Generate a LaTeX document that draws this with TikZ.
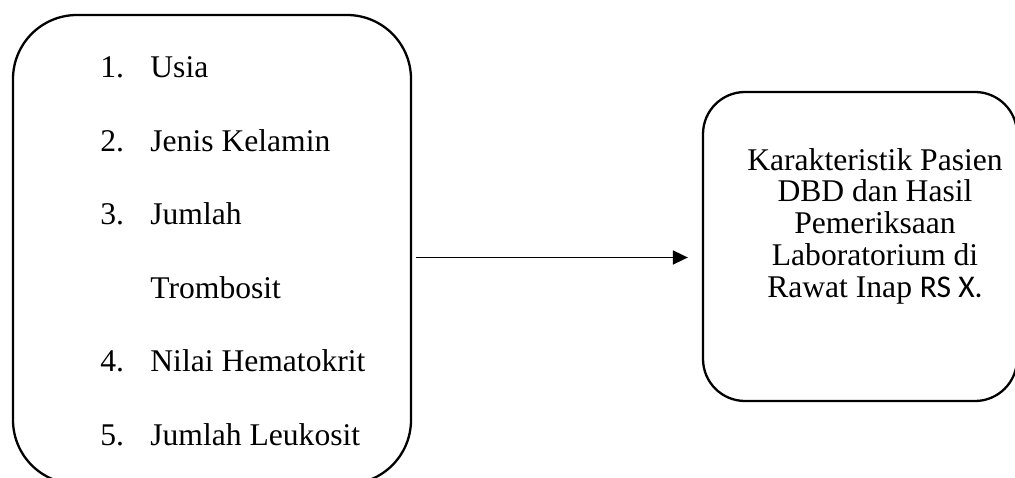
\documentclass[tikz,border=0pt]{standalone}
\usepackage{fontspec}
\setmainfont{Liberation Serif}
\newfontfamily\sansrs{Carlito}
\usetikzlibrary{arrows.meta,positioning}

\begin{document}
\fontsize{15.8}{15.9}\selectfont
\begin{tikzpicture}[
      x=0.5pt, y=0.5pt,
      mybox/.style={
         draw=black,
         line width=1.15pt,
         rounded corners=32pt,
         inner sep=0pt},
      mytext/.style={
         inner sep=0pt,
         font=\fontsize{15.8}{15.9}\selectfont},
      myarrow/.style={
        -{Triangle[length=7.5pt,width=7pt]},
        line width=0.9pt,
        shorten >=7pt},
      ]
      \path[use as bounding box, clip] (0,0) rectangle (1015,477);
      % variables
      \node[mybox,minimum width=199pt,minimum height=234.5pt] (vars) at (212,227.5) {};
      \foreach \n/\txt [count=\i] in {% number/text
        1./Usia,
        2./Jenis Kelamin,
        3./Jumlah,
        /Trombosit,
        4./Nilai Hematokrit,
        5./Jumlah Leukosit}
        {
        \node[mytext,anchor=base west] (num\i) at (100,{399-73.4*(\i-1)}) {\n};
        \node[mytext,anchor=base west] (var\i) at (150,{399-73.4*(\i-1)}) {\txt};
        }
      % outcome
      \node[mybox,rounded corners=21pt,minimum width=157pt,minimum height=154.5pt] (out) at (860,230.5) {};
      \node[mytext,align=center] (outtxt) at (875,251)
        {Karakteristik Pasien\\DBD dan Hasil\\Pemeriksaan\\Laboratorium di\\Rawat Inap {\sansrs RS X.}};

      \draw[myarrow] ([xshift=2pt,yshift=-4pt]vars.east) coordinate (a) -- (a -| out.west);
\end{tikzpicture}
\end{document}
